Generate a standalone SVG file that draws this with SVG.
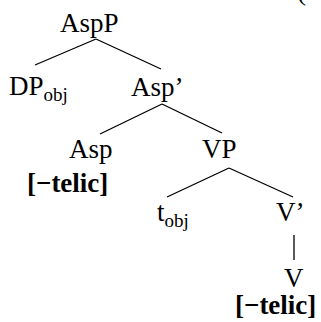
<svg xmlns="http://www.w3.org/2000/svg" width="321" height="322" viewBox="0 0 321 322">
<style>
text{font-family:'Liberation Serif','Times New Roman',serif;font-size:27px;fill:#000}
.b{font-weight:bold}
.sub{font-size:19px}
#edges line{stroke:#000;stroke-width:1.3}
</style>
<rect width="321" height="322" fill="#fff"/>
<text x="297" y="0">(</text>
<g id="edges">
<line x1="96" y1="39" x2="35" y2="65"/>
<line x1="96" y1="39" x2="161" y2="69"/>
<line x1="162" y1="104" x2="100" y2="134"/>
<line x1="162" y1="104" x2="222" y2="133"/>
<line x1="229" y1="168" x2="167" y2="197"/>
<line x1="229" y1="168" x2="293" y2="197"/>
<line x1="294" y1="235" x2="294" y2="260"/>
</g>
<g id="AspP"><text x="60" y="32">AspP</text></g>
<g id="DPobj"><text x="9" y="95">DP<tspan class="sub" dy="6">obj</tspan></text></g>
<g id="AspBar"><text x="131" y="96">Asp’</text></g>
<g id="Asp"><text x="69" y="158">Asp</text><text class="b" x="27" y="192">[−telic]</text></g>
<g id="VP"><text x="202" y="158">VP</text></g>
<g id="tobj"><text x="157" y="221">t<tspan class="sub" dy="6">obj</tspan></text></g>
<g id="VBar"><text x="276" y="221">V’</text></g>
<g id="V"><text x="284" y="287">V</text><text class="b" x="235" y="314">[−telic]</text></g>
</svg>
